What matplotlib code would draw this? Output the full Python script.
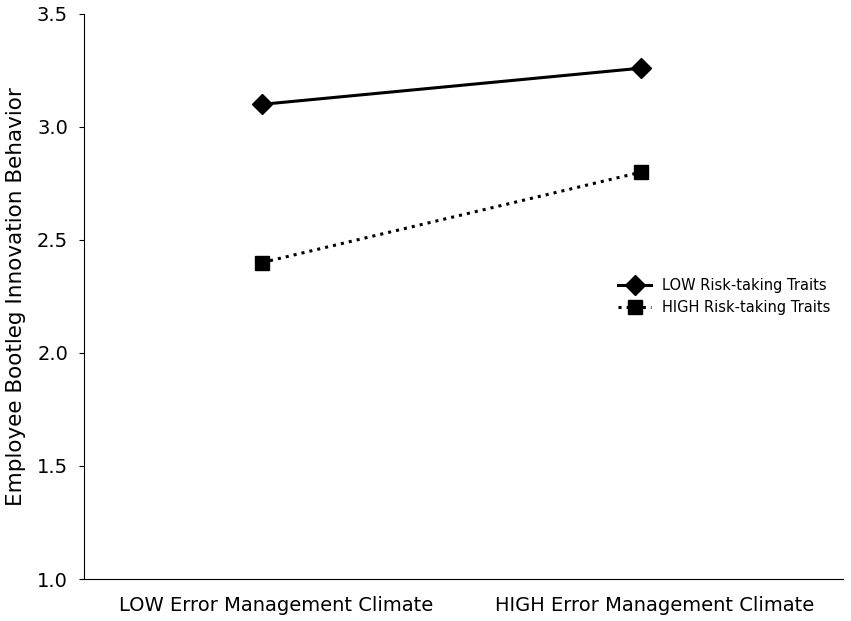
import matplotlib
matplotlib.use("Agg")
import matplotlib.pyplot as plt
import matplotlib.transforms as mtransforms

categories = ["LOW Error Management Climate", "HIGH Error Management Climate"]
low_risk = [3.10, 3.26]
high_risk = [2.40, 2.80]
series_labels = ["LOW Risk-taking Traits", "HIGH Risk-taking Traits"]
yticks = [1.0, 1.5, 2.0, 2.5, 3.0, 3.5]

fig = plt.figure(figsize=(8.51, 6.21), dpi=100)
ax = fig.add_axes([0.0987, 0.0676, 0.892, 0.91])
x = list(range(len(categories)))
ax.plot(x, low_risk, color="black", linestyle="-", linewidth=2.2, marker="D", markersize=10, label=series_labels[0])
ax.plot(x, high_risk, color="black", linestyle=":", linewidth=2.2, marker="s", markersize=10, label=series_labels[1])
ax.set_xlim(-0.47, 1.533)
ax.set_ylim(1.0, 3.5)
ax.set_yticks(yticks)
ax.set_yticklabels([f"{v:.1f}" for v in yticks], fontsize=14)
ax.tick_params(axis="y", pad=8)
ax.set_xticks(x)
ax.set_xticklabels(categories, fontsize=14)
ax.tick_params(axis="x", length=0, pad=12)
offset = mtransforms.ScaledTranslation(0.14, 0, fig.dpi_scale_trans)
for lbl in ax.get_xticklabels():
    lbl.set_transform(lbl.get_transform() + offset)
ax.set_ylabel("Employee Bootleg Innovation Behavior", fontsize=15.5, labelpad=8)
ax.spines["top"].set_visible(False)
ax.spines["right"].set_visible(False)
ax.legend(frameon=False, fontsize=10.5, loc="center left", bbox_to_anchor=(0.686, 0.5),
          handlelength=2.3, handletextpad=0.7, labelspacing=0.45)
fig.savefig("out.png", dpi=100)
